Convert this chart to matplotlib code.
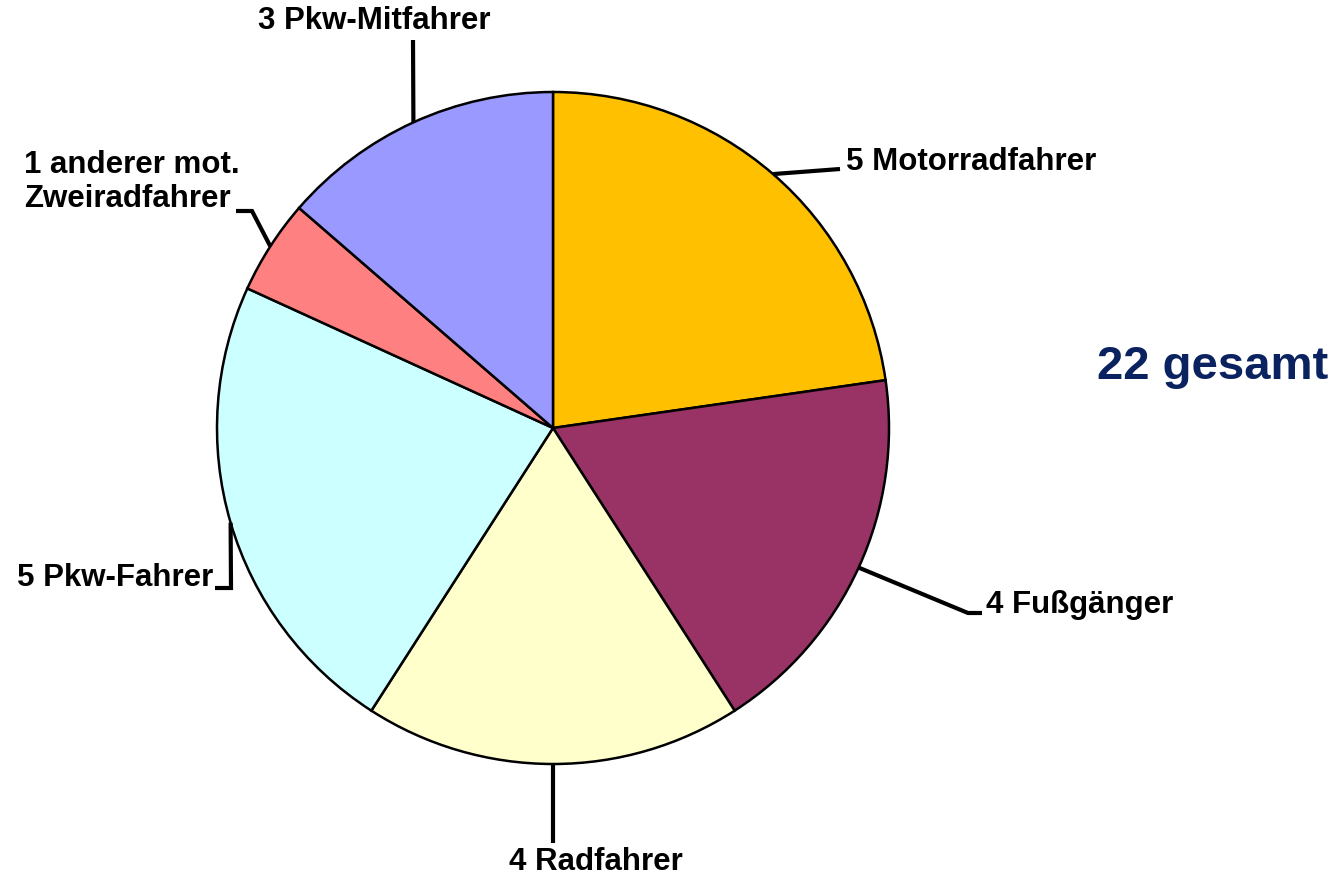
import numpy as np
import matplotlib.pyplot as plt

# Verkehrstote nach Art der Verkehrsbeteiligung
kategorien = ['Motorradfahrer', 'Fußgänger', 'Radfahrer', 'Pkw-Fahrer',
              'anderer mot.\nZweiradfahrer', 'Pkw-Mitfahrer']
anzahl = [5, 4, 4, 5, 1, 3]
farben = ['#FFC000', '#993366', '#FFFFCC', '#CCFFFF', '#FF8080', '#9999FF']

W, H = 1341, 880
cx, cy, r = 553, H - 428, 336

fig = plt.figure(figsize=(W / 100, H / 100), dpi=100)
ax = fig.add_axes([0, 0, 1, 1])

wedges, _ = ax.pie(anzahl, colors=farben, startangle=90, counterclock=False,
                   center=(cx, cy), radius=r,
                   wedgeprops=dict(edgecolor='black', linewidth=1.8))

# leader line bends and label positions, in pixel coords (y from top)
knicke = [
    [(840, 169)],
    [(968, 613), (982, 613)],
    [(553, 843)],
    [(231, 588), (215, 588)],
    [(252, 211), (236, 211)],
    [(413, 40)],
]
texte = [
    (846, 162, 'left', 'center'),
    (986, 605, 'left', 'center'),
    (509, 862, 'left', 'center'),
    (213, 578, 'right', 'center'),
    (24, 182, 'left', 'center'),
    (374, 21, 'center', 'center'),
]

for w, n, name, pts, (tx, ty, ha, va) in zip(wedges, anzahl, kategorien, knicke, texte):
    mitte = np.deg2rad((w.theta1 + w.theta2) / 2)
    ax_ = cx + r * np.cos(mitte)
    ay_ = cy + r * np.sin(mitte)
    xs = [ax_] + [p[0] for p in pts]
    ys = [ay_] + [H - p[1] for p in pts]
    ax.plot(xs, ys, color='black', linewidth=3, solid_capstyle='butt',
            solid_joinstyle='miter')
    ax.text(tx, H - ty, f'{n} {name}', ha=ha, va=va, ma='left',
            fontsize=22.5, fontweight='bold', family='Liberation Sans',
            linespacing=1.15)

ax.text(1097, H - 367, f'{sum(anzahl)} gesamt', ha='left', va='center',
        fontsize=34, fontweight='bold', family='Liberation Sans', color='#0B2260')

ax.set_xlim(0, W)
ax.set_ylim(0, H)
ax.axis('off')
fig.savefig('out.png', dpi=100)
